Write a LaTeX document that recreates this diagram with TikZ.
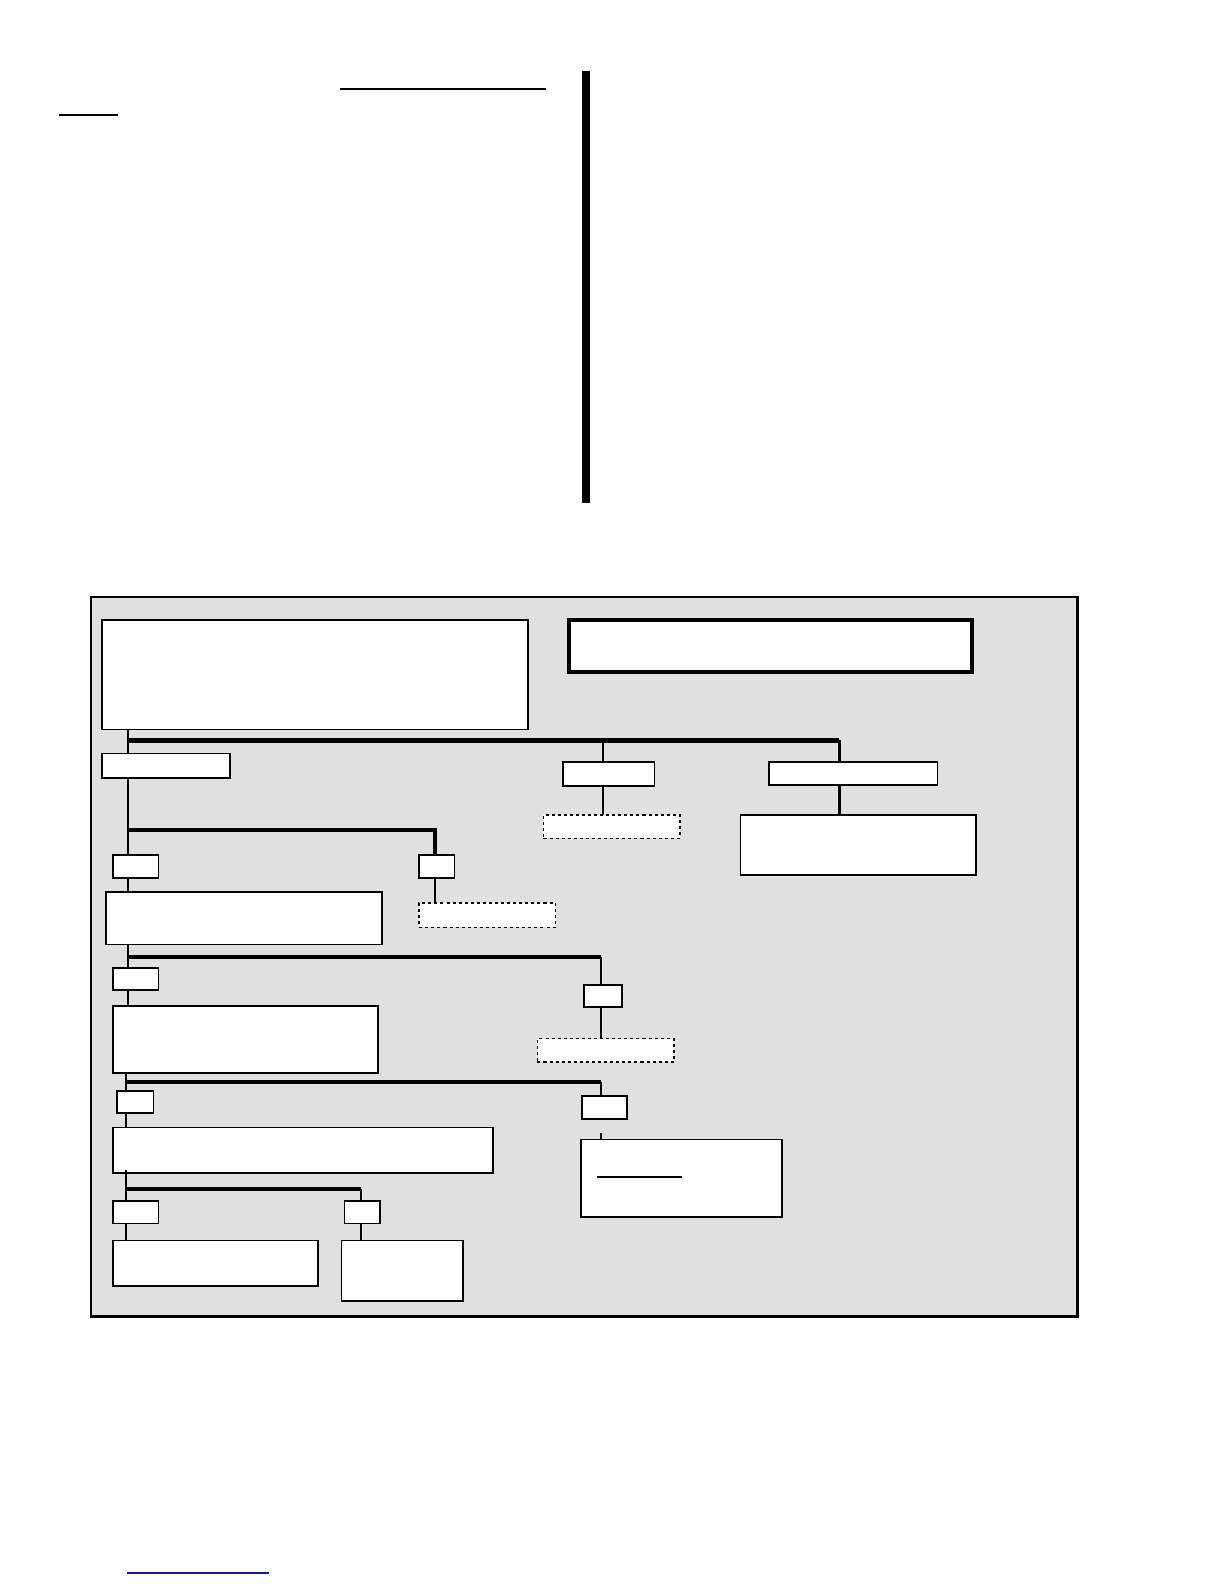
\documentclass[tikz,border=0pt]{standalone}
\usepackage{tikz}

\begin{document}
\begin{tikzpicture}[
  x=1pt, y=-1pt,
  box/.style={draw,fill=white,line width=1.7pt,anchor=north west,inner sep=0pt,outer sep=0pt},
  dbox/.style={box,dashed,dash pattern=on 3pt off 3pt},
  tag/.style={box,minimum height=23pt},
  link/.style={line width=2.1pt},
  bus/.style={line width=4pt},
  rule/.style={line width=1.4pt}
]
\useasboundingbox (0,0) rectangle (1212,1568);

% page rules and side bar
\draw[rule] (337,88) -- (540,88);
\draw[rule] (58,114) -- (117,114);
\fill (576,70) rectangle (584,498);
\draw[line width=1.6pt,color={rgb,255:red,26;green,26;blue,140}] (126,1557) -- (266,1557);

% frame
\draw[fill={rgb,255:red,224;green,224;blue,224},line width=2.8pt] (90,591) rectangle (1067,1303);

% top row
\node[box,minimum width=422pt,minimum height=108pt] (top) at (101,614) {};
\node[box,line width=3.6pt,minimum width=399pt,minimum height=51pt] (title) at (563,614) {};

% level 1
\node[tag,minimum width=127pt,minimum height=24pt] (lvA) at (101,746) {};
\node[tag,minimum width=91pt,minimum height=24pt] (lvB) at (557,754) {};
\node[tag,minimum width=167pt,minimum height=23pt] (lvC) at (761,754) {};
\node[dbox,minimum width=135pt,minimum height=23pt] (optB) at (538,807) {};
\node[box,minimum width=233pt,minimum height=59pt] (infoC) at (733,807) {};

% level 2
\node[tag,minimum width=45pt] (tagA1) at (112,846) {};
\node[tag,minimum width=35pt] (tagA2) at (415,846) {};
\node[box,minimum width=273pt,minimum height=52pt] (stepF) at (105,883) {};
\node[dbox,minimum width=135pt,minimum height=24pt] (optA2) at (415,894) {};

% level 3
\node[tag,minimum width=45pt,minimum height=22pt] (tagF1) at (112,958) {};
\node[tag,minimum width=38pt,minimum height=22pt] (tagF2) at (578,975) {};
\node[box,minimum width=262pt,minimum height=66pt] (stepG) at (112,996) {};
\node[dbox,minimum width=135pt,minimum height=23pt] (optF2) at (532,1028) {};

% level 4
\node[tag,minimum width=36pt,minimum height=22pt] (tagG1) at (116,1080) {};
\node[tag,minimum width=45pt,minimum height=23pt] (tagG2) at (576,1085) {};
\node[box,minimum width=376pt,minimum height=45pt] (stepI) at (112,1116) {};
\node[box,minimum width=199pt,minimum height=77pt] (noteH) at (575,1128) {};
\draw[rule] (591,1165) -- (675,1165);

% level 5
\node[tag,minimum width=45pt,minimum height=22pt] (tagI1) at (112,1189) {};
\node[tag,minimum width=35pt,minimum height=22pt] (tagI2) at (341,1189) {};
\node[box,minimum width=203pt,minimum height=45pt] (endJ) at (112,1228) {};
\node[box,minimum width=120pt,minimum height=60pt] (endK) at (338,1228) {};

% junctions
\coordinate (j1) at (127,733);
\coordinate (k1) at (597,733);
\coordinate (m1) at (831,733);
\coordinate (j2) at (127,822);
\coordinate (k2) at (431,822);
\coordinate (j3) at (127,947);
\coordinate (k3) at (595,947);
\coordinate (j4) at (125,1071);
\coordinate (k4) at (595,1071);
\coordinate (j5) at (125,1177);
\coordinate (k5) at (357,1177);

% connectors
\draw[link] (top.south -| j1) -- (lvA.north -| j1);
\draw[bus] (j1) -- (m1);
\draw[link] (k1) -- (lvB.north -| k1);
\draw[link] (m1) -- (lvC.north -| m1);
\draw[link] (lvB.south -| k1) -- (optB.north -| k1);
\draw[bus,line width=2.8pt] (lvC.south -| m1) -- (infoC.north -| m1);

\draw[link] (lvA.south -| j2) -- (tagA1.north -| j2);
\draw[bus] (j2) -- (k2) -- (tagA2.north -| k2);
\draw[link] (tagA1.south -| j2) -- (stepF.north -| j2);
\draw[link] (tagA2.south -| k2) -- (optA2.north -| k2);

\draw[link] (stepF.south -| j3) -- (tagF1.north -| j3);
\draw[bus] (j3) -- (k3);
\draw[link] (k3) -- (tagF2.north -| k3);
\draw[link] (tagF1.south -| j3) -- (stepG.north -| j3);
\draw[link] (tagF2.south -| k3) -- (optF2.north -| k3);

\draw[link] (stepG.south -| j4) -- (tagG1.north -| j4);
\draw[bus] (j4) -- (k4);
\draw[link] (k4) -- (tagG2.north -| k4);
\draw[link] (tagG1.south -| j4) -- (stepI.north -| j4);
\draw[link] ([yshift=6pt]noteH.north -| k4) -- (noteH.north -| k4);

\draw[link] ([yshift=3pt]stepI.south -| j5) -- (tagI1.north -| j5);
\draw[bus] (j5) -- (k5);
\draw[link] (k5) -- (tagI2.north -| k5);
\draw[link] (tagI1.south -| j5) -- (endJ.north -| j5);
\draw[link] (tagI2.south -| k5) -- (endK.north -| k5);
\end{tikzpicture}
\end{document}
